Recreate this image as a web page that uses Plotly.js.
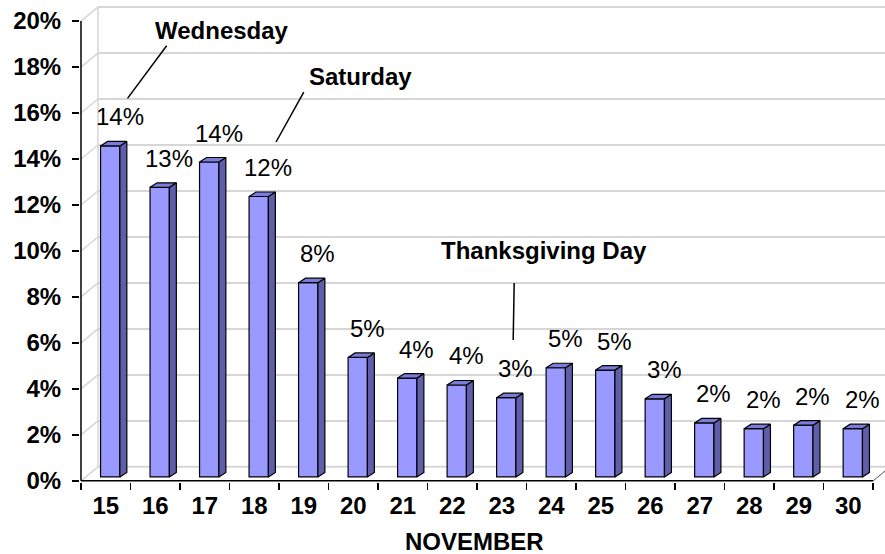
<!DOCTYPE html>
<html>
<head>
<meta charset="utf-8">
<script src="https://cdn.plot.ly/plotly-3.0.1.min.js"></script>
<style>
  html, body { margin: 0; padding: 0; background: #fff; }
  #chart { width: 885px; height: 554px; }
</style>
</head>
<body>
<div id="chart"></div>
<script>
// ---- data ----
const days = ['15','16','17','18','19','20','21','22','23','24','25','26','27','28','29','30'];
const share = [14.4, 12.6, 13.7, 12.2, 8.45, 5.2, 4.3, 4.0, 3.45, 4.75, 4.65, 3.4, 2.35, 2.1, 2.25, 2.1];
const shareLabels = ['14%','13%','14%','12%','8%','5%','4%','4%','3%','5%','5%','3%','2%','2%','2%','2%'];
const yTickValues = [0, 2, 4, 6, 8, 10, 12, 14, 16, 18, 20];
const xTitle = 'NOVEMBER';

// ---- styling constants (pseudo-3D geometry in axis units) ----
const FONT = '"Liberation Sans", Arial, sans-serif';
const WALL_DX = 0.343, WALL_DY = 0.609;   // depth of the back wall
const BAR_DX = 0.141, BAR_DY = 0.196;     // depth of each column
const BAR_BASE = 0.17;                    // columns stand slightly behind the front edge
const BAR_W = 0.39, BAR_OFF = -0.105;     // front face width and shift
const FRONT = '#9999FF', SIDE = '#5E5EAA', TOP = '#7B7BDA';
const GRID = '#d6d6d6';

const idx = days.map((d, i) => i);
const xMin = -0.5, xMax = days.length - 0.5;

// ---- walls / grid (shapes below traces) ----
const shapes = [];
yTickValues.forEach(v => {
  shapes.push({type:'line', layer:'below', xref:'x', yref:'y',
    x0: xMin + WALL_DX, x1: xMax + 2, y0: v + WALL_DY, y1: v + WALL_DY,
    line:{color:GRID, width:2}});
  shapes.push({type:'line', layer:'below', xref:'x', yref:'y',
    x0: xMin, x1: xMin + WALL_DX, y0: v, y1: v + WALL_DY,
    line:{color:GRID, width:1.5}});
});
shapes.push({type:'line', layer:'below', xref:'x', yref:'y',
  x0: xMin + WALL_DX, x1: xMin + WALL_DX, y0: yTickValues[0] + WALL_DY,
  y1: yTickValues[yTickValues.length-1] + WALL_DY, line:{color:GRID, width:1.5}});
shapes.push({type:'line', layer:'below', xref:'x', yref:'y',
  x0: xMax, x1: xMax + WALL_DX, y0: 0, y1: WALL_DY, line:{color:'#555', width:1}});
// front axes
shapes.push({type:'line', layer:'above', xref:'x', yref:'y',
  x0: xMin, x1: xMin, y0: 0, y1: yTickValues[yTickValues.length-1], line:{color:'#000', width:1.5}});
shapes.push({type:'line', layer:'above', xref:'x', yref:'y',
  x0: xMin, x1: xMax, y0: 0, y1: 0, line:{color:'#000', width:1.5}});

// callout leader lines
const leaders = [
  [0.44, 16.64, 1.23, 18.93],
  [3.44, 14.74, 4.00, 16.91],
  [8.25, 8.61, 8.23, 6.13]
];
leaders.forEach(l => shapes.push({type:'line', layer:'above', xref:'x', yref:'y',
  x0:l[0], y0:l[1], x1:l[2], y1:l[3], line:{color:'#000', width:1.5}}));

// ---- column faces ----
const sideX = [], sideY = [], topX = [], topY = [];
idx.forEach(i => {
  const xL = i + BAR_OFF, xR = xL + BAR_W, yB = BAR_BASE, yT = BAR_BASE + share[i];
  sideX.push(xR, xR + BAR_DX, xR + BAR_DX, xR, xR, null);
  sideY.push(yB, yB + BAR_DY, yT + BAR_DY, yT, yB, null);
  topX.push(xL, xL + BAR_DX, xR + BAR_DX, xR, xL, null);
  topY.push(yT, yT + BAR_DY, yT + BAR_DY, yT, yT, null);
});

const traces = [
  {type:'bar', x: idx, y: share, base: BAR_BASE, width: BAR_W, offset: BAR_OFF,
   marker:{color:FRONT, line:{color:'#000', width:1.2}}, hoverinfo:'x+y', name:'share'},
  {type:'scatter', mode:'lines', x: sideX, y: sideY, fill:'toself', fillcolor: SIDE,
   line:{color:'#000', width:1.2}, hoverinfo:'skip', connectgaps:false},
  {type:'scatter', mode:'lines', x: topX, y: topY, fill:'toself', fillcolor: TOP,
   line:{color:'#000', width:1.2}, hoverinfo:'skip', connectgaps:false}
];

// ---- annotations ----
const annotations = idx.map(i => ({
  xref:'x', yref:'y', x: i, y: BAR_BASE + share[i], text: shareLabels[i],
  showarrow:false, xshift: 14, yshift: 29, yanchor:'middle',
  font:{family:FONT, size:24, color:'#000'}
}));
const callouts = [
  {text:'Wednesday', x:2.35, y:19.57},
  {text:'Saturday', x:5.14, y:17.57},
  {text:'Thanksgiving Day', x:8.85, y:10.0}
];
callouts.forEach(c => annotations.push({xref:'x', yref:'y', x:c.x, y:c.y, text:'<b>'+c.text+'</b>',
  showarrow:false, font:{family:FONT, size:24, color:'#000'}}));
annotations.push({xref:'x', yref:'paper', x: 7.45, y: 0, yanchor:'top', yshift:-44,
  text:'<b>'+xTitle+'</b>', showarrow:false, font:{family:FONT, size:24, color:'#000'}});

const layout = {
  width: 885, height: 554,
  margin:{l:80, r:0, t:5, b:72, pad:0},
  paper_bgcolor:'#fff', plot_bgcolor:'#fff',
  showlegend:false,
  font:{family:FONT, color:'#000'},
  xaxis:{type:'linear', range:[-0.52, 15.74], tickmode:'array', tickvals: idx, ticktext: days,
    ticks:'', showgrid:false, zeroline:false, showline:false,
    tickfont:{family:FONT, size:24, color:'#000', weight:'bold'}, ticklabelstandoff: 7,
    minor:{tickmode:'linear', tick0:-0.5, dtick:1, ticks:'outside', ticklen:7, tickwidth:1.5,
      tickcolor:'#000', showgrid:false}},
  yaxis:{range:[-0.05, 20.7], tickmode:'array', tickvals: yTickValues,
    ticktext: yTickValues.map(v => v + '%'),
    ticks:'outside', ticklen:7, tickwidth:1.5, tickcolor:'#000',
    showgrid:false, zeroline:false, showline:false, ticklabelstandoff: 6,
    tickfont:{family:FONT, size:24, color:'#000', weight:'bold'}},
  shapes: shapes,
  annotations: annotations
};

Plotly.newPlot('chart', traces, layout, {displayModeBar:false, staticPlot:true});
</script>
</body>
</html>
